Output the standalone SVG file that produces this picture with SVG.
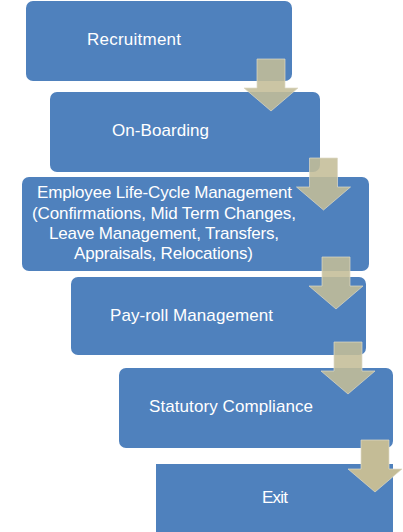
<svg xmlns="http://www.w3.org/2000/svg" xmlns:xlink="http://www.w3.org/1999/xlink" width="403" height="532" viewBox="0 0 403 532">
<style>
.box{fill:#4F81BD;}
.lbl{fill:#FFFFFF;font-family:"Liberation Sans",Arial,sans-serif;font-size:17px;text-anchor:middle;}
.arr{fill:#C4BD97;fill-opacity:0.88;stroke:#DEDAC6;stroke-opacity:0.7;stroke-width:1;}
.arr-solid{fill:#C4BC96;stroke:#DEDAC6;stroke-opacity:0.7;stroke-width:1;}
</style>
<defs>
<path id="downArrow" d="M-14 0 H14 V29 H27 L0 52 L-27 29 H-14 Z"/>
</defs>
<rect width="403" height="532" fill="#FFFFFF"/>
<g id="node-recruitment">
<rect class="box" x="26" y="1" width="266" height="80" rx="7"/>
<text class="lbl" x="134" y="45" textLength="94">Recruitment</text>
</g>
<g id="node-onboarding">
<rect class="box" x="50" y="92" width="270" height="80" rx="7"/>
<text class="lbl" x="160.5" y="136" textLength="97">On-Boarding</text>
</g>
<g id="node-lifecycle">
<rect class="box" x="22" y="177" width="347" height="94" rx="7"/>
<text class="lbl" x="164.5" y="198" textLength="255">Employee Life-Cycle Management</text>
<text class="lbl" x="164" y="219" textLength="264">(Confirmations, Mid Term Changes,</text>
<text class="lbl" x="164" y="239" textLength="230">Leave Management, Transfers,</text>
<text class="lbl" x="163.5" y="259" textLength="179">Appraisals, Relocations)</text>
</g>
<g id="node-payroll">
<rect class="box" x="71" y="277" width="295" height="78" rx="7"/>
<text class="lbl" x="191.5" y="321" textLength="163">Pay-roll Management</text>
</g>
<g id="node-statutory">
<rect class="box" x="119" y="368" width="274" height="80" rx="7"/>
<text class="lbl" x="231" y="412" textLength="164">Statutory Compliance</text>
</g>
<g id="node-exit">
<rect class="box" x="156" y="464" width="237" height="70"/>
<text class="lbl" x="275" y="503" textLength="26">Exit</text>
</g>
<g id="connectors">
<use xlink:href="#downArrow" class="arr" transform="translate(271,59)"/>
<use xlink:href="#downArrow" class="arr" transform="translate(323.5,158)"/>
<use xlink:href="#downArrow" class="arr" transform="translate(336,257)"/>
<use xlink:href="#downArrow" class="arr" transform="translate(348,342)"/>
<use xlink:href="#downArrow" class="arr-solid" transform="translate(375,440)"/>
</g>
</svg>
